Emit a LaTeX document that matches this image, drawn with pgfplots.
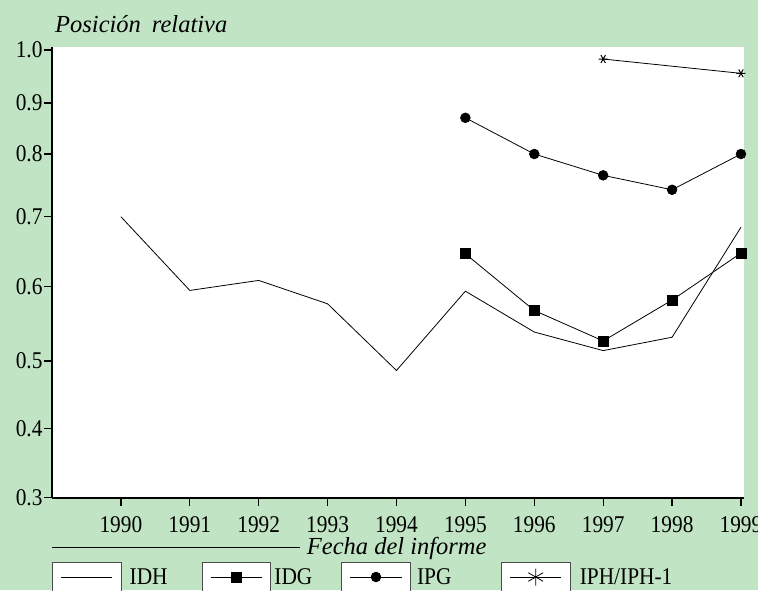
\documentclass[border=0pt]{standalone}
\usepackage{fontspec}
\setmainfont{Liberation Serif}
\newfontfamily\cond{Liberation Serif}[FakeStretch=0.89]
\usepackage{pgfplots}
\pgfplotsset{compat=1.18}
\definecolor{bg}{RGB}{193,229,196}
\pgfplotsset{
  boxlegend/.style={legend image code/.code={
    \draw[draw=black!70,fill=white,line width=0.7pt,solid] (0pt,-14.7pt) rectangle (68.5pt,14.7pt);
    \draw[mark repeat=2,mark phase=2,##1] plot coordinates {(8.5pt,0pt)(34.25pt,0pt)(60pt,0pt)};
  }},
  boxlegendstar/.style={legend image code/.code={
    \draw[draw=black!70,fill=white,line width=0.7pt,solid] (0pt,-14.7pt) rectangle (68.5pt,14.7pt);
    \draw[mark repeat=2,mark phase=2,##1,mark size=8.5pt,mark options={solid,rotate=0}] plot coordinates {(8.5pt,0pt)(34.25pt,0pt)(60pt,0pt)};
  }}
}
\begin{document}
\begin{tikzpicture}
\useasboundingbox (0,0) rectangle (758pt,590pt);
\clip (0,0) rectangle (758pt,590pt);
\fill[bg] (0,0) rectangle (758pt,590pt);
\begin{axis}[
  at={(52pt,92.3pt)}, anchor=south west,
  scale only axis, width=692pt, height=450.7pt,
  xmin=1989, xmax=1999.044, ymin=0.3, ymax=1.0057,
  enlargelimits=false,
  y coord trafo/.code={\pgfmathparse{(#1<0.4)?((#1-0.3)*690):((#1<0.5)?(69+(#1-0.4)*677):((#1<0.6)?(136.7+(#1-0.5)*743):((#1<0.7)?(211+(#1-0.6)*700):((#1<0.8)?(281+(#1-0.7)*627):((#1<0.9)?(343.7+(#1-0.8)*510):(394.7+(#1-0.9)*530))))))}},
  axis lines=left,
  axis line style={-, line width=1.6pt, black},
  xtick={1990,1991,1992,1993,1994,1995,1996,1997,1998,1999},
  xticklabels={1990,1991,1992,1993,1994,1995,1996,1997,1998,1999},
  ytick={0.3,0.4,0.5,0.6,0.7,0.8,0.9,1.0},
  yticklabels={0.3,0.4,0.5,0.6,0.7,0.8,0.9,1.0},
  tick align=outside, major tick length=8pt,
  tick style={black, line width=1.3pt},
  xticklabel style={font=\cond\fontsize{24}{24}\selectfont, anchor=base, yshift=-27pt, inner sep=0pt},
  yticklabel style={font=\cond\fontsize{24}{24}\selectfont, anchor=east, xshift=-1.3pt, inner sep=0pt},
  axis background/.style={fill=white},
  clip=false,
  legend columns=4, legend cell align=left,
  legend style={draw=none, fill=none, inner sep=0pt, outer sep=0pt,
    nodes={inner sep=0pt}, column sep=0pt,
    at={(0,-0.1426)}, anchor=north west,
    font=\cond\fontsize{24}{24}\selectfont},
]
\addplot[boxlegend, black, line width=0.8pt] coordinates {
  (1990,0.700) (1991,0.595) (1992,0.609) (1993,0.577) (1994,0.486)
  (1995,0.594) (1996,0.539) (1997,0.514) (1998,0.532) (1999,0.685)};
\addlegendentry{\makebox[80.5pt][l]{\hspace{8.5pt}IDH}}
\addplot[boxlegend, black, line width=0.8pt, mark=square*, mark size=5pt, mark options={solid}] coordinates {
  (1995,0.647) (1996,0.568) (1997,0.527) (1998,0.582) (1999,0.648)};
\addlegendentry{\makebox[70.5pt][l]{\hspace{3.5pt}IDG}}
\addplot[boxlegend, black, line width=0.8pt, mark=*, mark size=4.8pt, mark options={solid}] coordinates {
  (1995,0.871) (1996,0.800) (1997,0.766) (1998,0.743) (1999,0.800)};
\addlegendentry{\makebox[90.5pt][l]{\hspace{6.5pt}IPG}}
\addplot[boxlegendstar, black, line width=0.8pt, mark=asterisk, mark size=4.5pt, mark options={solid, rotate=90, line width=1pt}] coordinates {
  (1997,0.983) (1999,0.956)};
\addlegendentry{\hspace{9.5pt}IPH/IPH-1}
\end{axis}
\node[anchor=base west, inner sep=0pt, font=\itshape\fontsize{24.5}{26}\selectfont] at (55pt,557.7pt) {Posición\hspace{0.45em}relativa};
\draw[line width=1.3pt] (52pt,42.3pt) -- (300pt,42.3pt);
\node[anchor=base west, inner sep=0pt, font=\itshape\fontsize{24.5}{26}\selectfont] at (306.7pt,36pt) {Fecha del informe};
\end{tikzpicture}
\end{document}
